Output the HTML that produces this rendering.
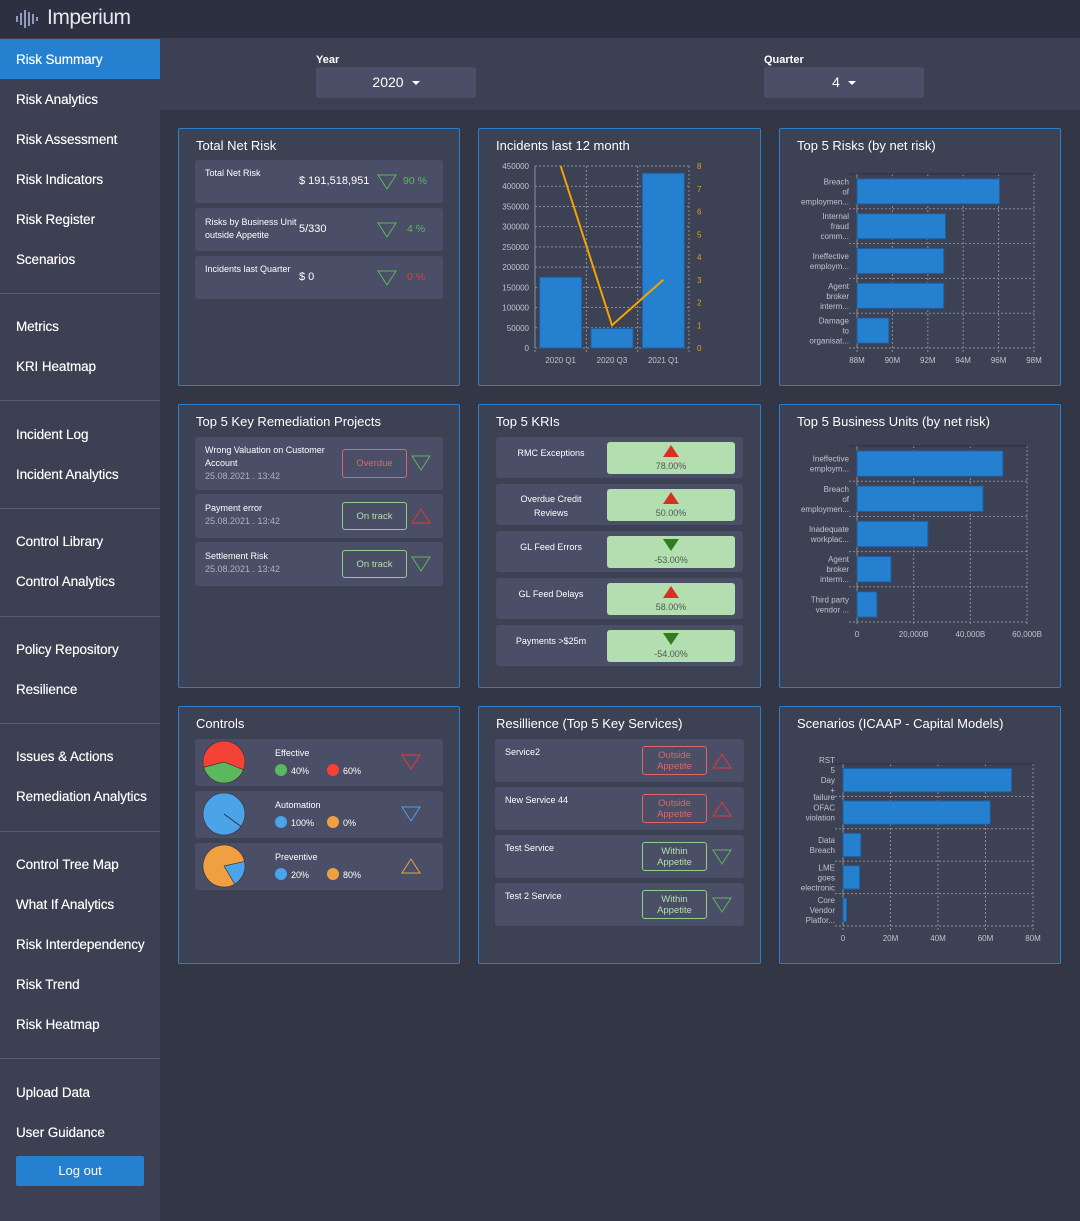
<!DOCTYPE html>
<html><head><meta charset="utf-8"><style>
*{box-sizing:border-box;margin:0;padding:0}
body{width:1080px;height:1221px;background:#333645;font-family:"Liberation Sans",sans-serif;color:#fff;position:relative;overflow:hidden}
.abs{position:absolute}
#hdr{left:0;top:0;width:1080px;height:38px;background:#2d3040;box-shadow:0 2px 4px rgba(0,0,0,.4)}
#side{left:0;top:38px;width:160px;height:1183px;background:#3c4052}
.nav{position:absolute;left:0;width:160px;height:40px;line-height:42px;padding-left:16px;font-size:13.5px;color:#fff;letter-spacing:-.1px;text-shadow:0 0 .4px #fff}
.nav.act{background:#2680d0}
.sep{position:absolute;left:0;width:160px;height:1px;background:#5a5e70}
#filt{left:160px;top:38px;width:920px;height:72px;background:#3c4052}
.flab{position:absolute;font-size:11px;font-weight:bold;color:#fff}
.sel{position:absolute;width:160px;height:31px;background:#4a4e66;border-radius:3px;font-size:14px;text-align:center;line-height:31px}
.sel:after{content:"";display:inline-block;margin-left:8px;vertical-align:middle;border-left:4px solid transparent;border-right:4px solid transparent;border-top:4px solid #fff}
.card{position:absolute;background:#3d4154;border:1px solid #2a80d0;border-radius:2px}
.ct{position:absolute;left:17px;top:9px;font-size:13px;color:#fff}
.row{position:absolute;background:#4a4e66;border-radius:3px}
.sm{font-size:9px;color:#fff}
.gray{color:#aeb1bd}
.badge{position:absolute;border:1px solid;border-radius:3px;font-size:9.5px;text-align:center;display:flex;align-items:center;justify-content:center;line-height:11px}
.kbox{position:absolute;left:111px;width:128px;background:#b3dfb0;border-radius:3px;text-align:center;font-size:9px;color:#555}
svg text{font-family:"Liberation Sans",sans-serif}
</style></head><body>
<div id="hdr" class="abs">
 <svg class="abs" style="left:15px;top:7px" width="24" height="24">
  <g stroke="#a9b8d8" stroke-width="1.6"><line x1="2" y1="9" x2="2" y2="15"/><line x1="6" y1="6" x2="6" y2="18"/><line x1="10" y1="3" x2="10" y2="21"/><line x1="14" y1="5" x2="14" y2="19"/><line x1="18" y1="7" x2="18" y2="17"/><line x1="22" y1="10" x2="22" y2="14"/></g></svg>
 <div class="abs" style="left:47px;top:6px;font-size:21px;color:#e6e8ee;letter-spacing:-.5px">Imperium</div>
</div>
<div id="side" class="abs"></div>
<div id="filt" class="abs">
 <div class="flab" style="left:156px;top:16px">Year</div>
 <div class="sel" style="left:156px;top:29px">2020</div>
 <div class="flab" style="left:604px;top:16px">Quarter</div>
 <div class="sel" style="left:604px;top:29px">4</div>
</div>

<div class="card" style="left:178px;top:128px;width:282px;height:258px">
 <div class="ct">Total Net Risk</div>
 <div class="row" style="left:16px;top:31px;width:248px;height:43px">
  <div class="abs sm" style="left:10px;top:8px">Total Net Risk</div>
  <div class="abs" style="left:104px;top:15px;font-size:11px">$ 191,518,951</div>
  <svg class="abs" style="left:182px;top:14px" width="20" height="16"><polygon points="1,1 19,1 10,15" fill="none" stroke="#5cb85c"/></svg>
  <div class="abs" style="left:208px;top:15px;font-size:10.5px;color:#5cb85c">90 %</div>
 </div>
 <div class="row" style="left:16px;top:79px;width:248px;height:43px">
  <div class="abs sm" style="left:10px;top:8px;line-height:13px">Risks by Business Unit<br>outside Appetite</div>
  <div class="abs" style="left:104px;top:15px;font-size:11px">5/330</div>
  <svg class="abs" style="left:182px;top:14px" width="20" height="16"><polygon points="1,1 19,1 10,15" fill="none" stroke="#5cb85c"/></svg>
  <div class="abs" style="left:212px;top:15px;font-size:10.5px;color:#5cb85c">4 %</div>
 </div>
 <div class="row" style="left:16px;top:127px;width:248px;height:43px">
  <div class="abs sm" style="left:10px;top:8px">Incidents last Quarter</div>
  <div class="abs" style="left:104px;top:15px;font-size:11px">$ 0</div>
  <svg class="abs" style="left:182px;top:14px" width="20" height="16"><polygon points="1,1 19,1 10,15" fill="none" stroke="#5cb85c"/></svg>
  <div class="abs" style="left:212px;top:15px;font-size:10.5px;color:#e53935">0 %</div>
 </div>
</div>

<div class="card" style="left:478px;top:128px;width:283px;height:258px">
 <div class="ct">Incidents last 12 month</div>
 <svg id="inc" class="abs" style="left:0;top:0" width="283" height="258"></svg>
</div>
<div class="card" style="left:779px;top:128px;width:282px;height:258px">
 <div class="ct">Top 5 Risks (by net risk)</div>
 <svg id="risks" class="abs" style="left:0;top:0" width="282" height="258"></svg>
</div>

<div class="card" style="left:178px;top:404px;width:282px;height:284px">
 <div class="ct">Top 5 Key Remediation Projects</div>
 <div class="row" style="left:16px;top:32px;width:248px;height:53px">
  <div class="abs sm" style="left:10px;top:7px;line-height:13px">Wrong Valuation on Customer<br>Account<br><span class="gray">25.08.2021 . 13:42</span></div>
  <div class="badge" style="left:147px;top:12px;width:65px;height:29px;border-color:#e06666;color:#e06666">Overdue</div>
  <svg class="abs" style="left:216px;top:18px" width="20" height="16"><polygon points="1,1 19,1 10,15" fill="none" stroke="#5cb85c"/></svg>
 </div>
 <div class="row" style="left:16px;top:89px;width:248px;height:44px">
  <div class="abs sm" style="left:10px;top:8px;line-height:13px">Payment error<br><span class="gray">25.08.2021 . 13:42</span></div>
  <div class="badge" style="left:147px;top:8px;width:65px;height:28px;border-color:#8fce8a;color:#b3dfb0">On track</div>
  <svg class="abs" style="left:216px;top:14px" width="20" height="16"><polygon points="1,15 19,15 10,1" fill="none" stroke="#e53935"/></svg>
 </div>
 <div class="row" style="left:16px;top:137px;width:248px;height:44px">
  <div class="abs sm" style="left:10px;top:8px;line-height:13px">Settlement Risk<br><span class="gray">25.08.2021 . 13:42</span></div>
  <div class="badge" style="left:147px;top:8px;width:65px;height:28px;border-color:#8fce8a;color:#b3dfb0">On track</div>
  <svg class="abs" style="left:216px;top:14px" width="20" height="16"><polygon points="1,1 19,1 10,15" fill="none" stroke="#5cb85c"/></svg>
 </div>
</div>

<div class="card" style="left:478px;top:404px;width:283px;height:284px">
 <div class="ct">Top 5 KRIs</div>
 <div id="kris"></div>
</div>

<div class="card" style="left:779px;top:404px;width:282px;height:284px">
 <div class="ct">Top 5 Business Units (by net risk)</div>
 <svg id="bus" class="abs" style="left:0;top:0" width="282" height="284"></svg>
</div>

<div class="card" style="left:178px;top:706px;width:282px;height:258px">
 <div class="ct">Controls</div>
 <div id="ctrls"></div>
</div>

<div class="card" style="left:478px;top:706px;width:283px;height:258px">
 <div class="ct">Resillience (Top 5 Key Services)</div>
 <div id="res"></div>
</div>

<div class="card" style="left:779px;top:706px;width:282px;height:258px">
 <div class="ct">Scenarios (ICAAP - Capital Models)</div>
 <svg id="scen" class="abs" style="left:0;top:0" width="282" height="258"></svg>
</div>

<script>
const NS="http://www.w3.org/2000/svg";
function mk(p,t,a){const e=document.createElementNS(NS,t);for(const k in a)e.setAttribute(k,a[k]);p.appendChild(e);return e;}

const navItems=[["Risk Summary",39],["Risk Analytics",79],["Risk Assessment",119],["Risk Indicators",159],["Risk Register",199],["Scenarios",239],["Metrics",306],["KRI Heatmap",346],["Incident Log",414],["Incident Analytics",454],["Control Library",521],["Control Analytics",561],["Policy Repository",629],["Resilience",669],["Issues & Actions",736],["Remediation Analytics",776],["Control Tree Map",844],["What If Analytics",884],["Risk Interdependency",924],["Risk Trend",964],["Risk Heatmap",1004],["Upload Data",1072],["User Guidance",1112]];
const seps=[293,400,508,616,723,831,1058];
const body=document.body;
navItems.forEach((n,i)=>{const d=document.createElement('div');d.className='nav'+(i==0?' act':'');d.style.top=n[1]+'px';d.textContent=n[0];


body.appendChild(d);});
seps.forEach(y=>{const d=document.createElement('div');d.className='sep';d.style.top=y+'px';


body.appendChild(d);});
const lo=document.createElement('div');lo.className='abs';lo.style.cssText='left:16px;top:1156px;width:128px;height:30px;background:#2680d0;border-radius:2px;text-align:center;line-height:30px;font-size:13px';lo.textContent='Log out';


body.appendChild(lo);

const incCats=["2020 Q1","2020 Q3","2021 Q1"];
const incValues=[175000,48000,432000];
const incCounts=[8,1,3];
const incLeftTicks=[0,50000,100000,150000,200000,250000,300000,350000,400000,450000];
const incRightTicks=[0,1,2,3,4,5,6,7,8];
(function(){
 const s=document.getElementById('inc');
 const x0=56,x1=210,y0=219,y1=37;
 const yL=v=>y0-(v/450000)*(y0-y1), yR=v=>y0-(v/8)*(y0-y1);
 const bw=(x1-x0)/incCats.length, xc=i=>x0+bw*(i+.5);
 incLeftTicks.forEach(t=>{mk(s,'line',{x1:x0,x2:x1,y1:yL(t),y2:yL(t),stroke:'#8a8d99','stroke-dasharray':'2,2','stroke-width':1});
  const tx=mk(s,'text',{x:x0-6,y:yL(t)+3,'font-size':8,fill:'#c0c3cc','text-anchor':'end'});tx.textContent=t;});
 for(let i=0;i<=incCats.length;i++)mk(s,'line',{x1:x0+bw*i,x2:x0+bw*i,y1:y1,y2:y0+4,stroke:'#8a8d99','stroke-dasharray':'2,2'});
 incRightTicks.forEach(t=>{const tx=mk(s,'text',{x:x1+8,y:yR(t)+3,'font-size':8,fill:'#e0a020'});tx.textContent=t;});
 mk(s,'line',{x1:x0,x2:x0,y1:y1,y2:y0,stroke:'#8a8d99'});
 incValues.forEach((v,i)=>{const r=mk(s,'rect',{x:xc(i)-21,y:yL(v),width:42,height:y0-yL(v),fill:'#2680d0',stroke:'#1c5fa0'});
  
  const tx=mk(s,'text',{x:xc(i),y:y0+15,'font-size':8,fill:'#c0c3cc','text-anchor':'middle'});tx.textContent=incCats[i];});
 const p=mk(s,'polyline',{points:incCounts.map((v,i)=>xc(i)+','+yR(v)).join(' '),fill:'none',stroke:'#f5a300','stroke-width':2});
 
})();

function hbar(id,cats,vals,ticks,lbl,x0,x1,y1,y0,minv,maxv,name){
 const s=document.getElementById(id);
 const sx=v=>x0+(v-minv)/(maxv-minv)*(x1-x0);
 const bh=(y0-y1)/cats.length;
 ticks.forEach((t,i)=>{mk(s,'line',{x1:sx(t),x2:sx(t),y1:y1,y2:y0+4,stroke:'#8a8d99','stroke-dasharray':'2,2'});
  const tx=mk(s,'text',{x:sx(t),y:y0+15,'font-size':8,fill:'#c0c3cc','text-anchor':'middle'});tx.textContent=lbl[i];});
 mk(s,'line',{x1:x0-8,x2:x1,y1:y1,y2:y1,stroke:'#2a2d3a'});
 for(let i=1;i<=cats.length;i++)mk(s,'line',{x1:x0-8,x2:x1,y1:y1+bh*i,y2:y1+bh*i,stroke:'#8a8d99','stroke-dasharray':'2,2'});
 mk(s,'line',{x1:x0,x2:x0,y1:y1,y2:y0,stroke:'#8a8d99'});
 vals.forEach((v,i)=>{const by=y1+bh*i+bh*.14;
  const r=mk(s,'rect',{x:x0,y:by,width:sx(v)-x0,height:bh*.72,fill:'#2680d0',stroke:'#1c5fa0'});
  
  const lines=cats[i].split('|');const cy=y1+bh*i+bh/2;
  lines.forEach((l,j)=>{const tx=mk(s,'text',{x:x0-8,y:cy+(j-(lines.length-1)/2)*10+3,'font-size':8,fill:'#c0c3cc','text-anchor':'end'});tx.textContent=l;});});
}
const riskCats=["Breach|of|employmen...","Internal|fraud|comm...","Ineffective|employm...","Agent|broker|interm...","Damage|to|organisat..."];
const riskValues=[96.05,93.0,92.9,92.9,89.8];
const riskTicks=[88,90,92,94,96,98];
const riskTickLabels=["88M","90M","92M","94M","96M","98M"];
hbar('risks',riskCats,riskValues,riskTicks,riskTickLabels,77,254,45,219,88,98,'risk-bar');

const buCats=["Ineffective|employm...","Breach|of|employmen...","Inadequate|workplac...","Agent|broker|interm...","Third party|vendor ..."];
const buValues=[51500,44500,25000,12000,7000];
const buTicks=[0,20000,40000,60000];
const buTickLabels=["0","20,000B","40,000B","60,000B"];
hbar('bus',buCats,buValues,buTicks,buTickLabels,77,247,41,217,0,60000,'business-unit-bar');

const scenCats=["5|Day|+","OFAC|violation","Data|Breach","LME|goes|electronic","Core|Vendor|Platfor..."];
const scenValues=[71,62,7.5,7,1.5];
const scenTicks=[0,20,40,60,80];
const scenTickLabels=["0","20M","40M","60M","80M"];
hbar('scen',scenCats,scenValues,scenTicks,scenTickLabels,63,253,57,219,0,80,'scenario-bar');

const kriNames=["RMC Exceptions","Overdue Credit|Reviews","GL Feed Errors","GL Feed Delays","Payments >$25m"];
const kriValues=[78,50,-53,58,-54];
const kriDir=["up","up","down","up","down"];
(function(){const c=document.getElementById('kris');const tops=[32,79,126,173,220];
 kriNames.forEach((n,i)=>{const r=document.createElement('div');r.className='row';r.style.cssText=`left:17px;top:${tops[i]}px;width:247px;height:41px`;
  
  
  const lines=n.split('|');
  r.innerHTML=`<div class="abs sm" style="left:0;width:110px;text-align:center;top:${lines.length>1?8:9}px;line-height:14px">${lines.join('<br>')}</div>
  <div class="kbox" style="top:5px;height:32px"><svg width="16" height="12" style="position:absolute;left:56px;top:3px">${kriDir[i]=='up'?'<polygon points="0,12 16,12 8,0" fill="#d93025"/>':'<polygon points="0,0 16,0 8,12" fill="#2e7d1f"/>'}</svg><div style="position:absolute;left:0;right:0;top:19px">${kriValues[i].toFixed(2)}%</div></div>`;
  c.appendChild(r);});})();

const ctrlNames=["Effective","Automation","Preventive"];
const ctrlA=[40,100,20];
const ctrlB=[60,0,80];
const ctrlColA=["#5cb85c","#4ba3ea","#4ba3ea"], ctrlColB=["#f44336","#f0a040","#f0a040"];
const ctrlTri=[["down","#e53935"],["down","#4ba3ea"],["up","#f0a040"]];
(function(){const c=document.getElementById('ctrls');const tops=[32,84,136];
 ctrlNames.forEach((n,i)=>{const r=document.createElement('div');r.className='row';r.style.cssText=`left:16px;top:${tops[i]}px;width:248px;height:47px`;
  
  
  const cx=24,cy=23,R=21;
  function arc(a0,a1,col){if(a1-a0>=Math.PI*2-1e-6)return `<circle cx="${cx}" cy="${cy}" r="${R}" fill="${col}" stroke="#333" stroke-width=".6"/>`;
   const p0=[cx+R*Math.cos(a0),cy+R*Math.sin(a0)],p1=[cx+R*Math.cos(a1),cy+R*Math.sin(a1)];
   return `<path d="M${cx},${cy}L${p0}A${R},${R} 0 ${a1-a0>Math.PI?1:0} 1 ${p1}Z" fill="${col}" stroke="#333" stroke-width=".6"/>`;}
  const st=i==1?Math.PI*0.2:(i==2?Math.PI*0.33:Math.PI*0.92);
  const aB=ctrlB[i]/100*Math.PI*2;
  let svg=arc(st+aB,st+Math.PI*2,ctrlColA[i])+arc(st,st+aB,ctrlColB[i]);
  if(i==1)svg=arc(0,Math.PI*2,ctrlColA[i])+`<line x1="${cx}" y1="${cy}" x2="${cx+R*Math.cos(st)}" y2="${cy+R*Math.sin(st)}" stroke="#333"/>`;
  const tri=ctrlTri[i][0]=='down'?'1,1 19,1 10,15':'1,15 19,15 10,1';
  r.innerHTML=`<svg style="position:absolute;left:5px;top:0" width="50" height="48">${svg}</svg>
  <div class="abs sm" style="left:80px;top:9px">${n}</div>
  <div class="abs" style="left:80px;top:25px;width:12px;height:12px;border-radius:50%;background:${ctrlColA[i]}"></div>
  <div class="abs sm" style="left:96px;top:27px">${ctrlA[i]}%</div>
  <div class="abs" style="left:132px;top:25px;width:12px;height:12px;border-radius:50%;background:${ctrlColB[i]}"></div>
  <div class="abs sm" style="left:148px;top:27px">${ctrlB[i]}%</div>
  <svg class="abs" style="left:206px;top:15px" width="20" height="16"><polygon points="${tri}" fill="none" stroke="${ctrlTri[i][1]}"/></svg>`;
  c.appendChild(r);});})();

const resNames=["Service2","New Service 44","Test Service","Test 2 Service"];
const resStatus=["out","out","in","in"];
(function(){const c=document.getElementById('res');const tops=[32,80,128,176];
 resNames.forEach((n,i)=>{const r=document.createElement('div');r.className='row';r.style.cssText=`left:16px;top:${tops[i]}px;width:249px;height:43px`;
  
  
  const out=resStatus[i]=='out';
  r.innerHTML=`<div class="abs sm" style="left:10px;top:8px">${n}</div>
  <div class="badge" style="left:147px;top:7px;width:65px;height:29px;border-color:${out?'#e06666':'#8fce8a'};color:${out?'#e06666':'#b3dfb0'}">${out?'Outside<br>Appetite':'Within<br>Appetite'}</div>
  <svg class="abs" style="left:217px;top:14px" width="20" height="16"><polygon points="${out?'1,15 19,15 10,1':'1,1 19,1 10,15'}" fill="none" stroke="${out?'#e53935':'#5cb85c'}"/></svg>`;
  c.appendChild(r);});})();
(function(){const s=document.getElementById('scen');const t=mk(s,'text',{x:55,y:56,'font-size':8,fill:'#c0c3cc','text-anchor':'end'});t.textContent='RST';
 const t2=mk(s,'text',{x:55,y:93,'font-size':8,fill:'#c0c3cc','text-anchor':'end'});t2.textContent='failure';})();
</script>
</body></html>
